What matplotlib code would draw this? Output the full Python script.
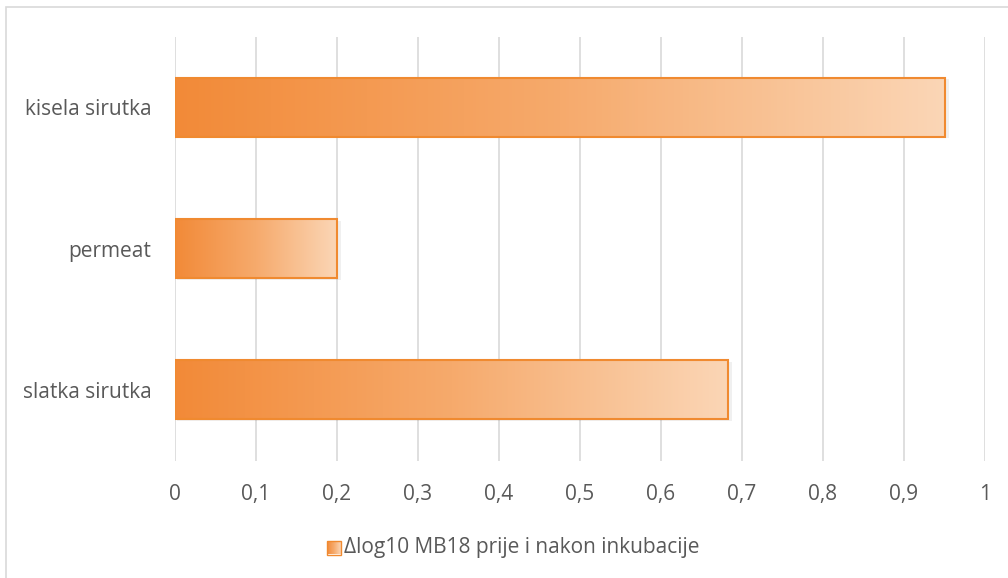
import numpy as np
import matplotlib.pyplot as plt
from matplotlib.patches import Rectangle
from matplotlib.colors import LinearSegmentedColormap

plt.rcParams['font.family'] = ['Open Sans', 'DejaVu Sans']

categories = ['slatka sirutka', 'permeat', 'kisela sirutka']
values = [0.683, 0.2, 0.95]
xticks = [0, 0.1, 0.2, 0.3, 0.4, 0.5, 0.6, 0.7, 0.8, 0.9, 1]
series_name = '\u0394log10 MB18 prije i nakon inkubacije'

grey = '#595959'
edge = '#F08A30'
cmap = LinearSegmentedColormap.from_list('og', ['#F28A38', '#F6AA6C', '#FBD6B6'])
grad = np.linspace(0, 1, 256).reshape(1, -1)

fig = plt.figure(figsize=(10.08, 5.78), dpi=100)
fig.patches.append(Rectangle((6 / 1008, -0.01), 1.1, 1 - 7 / 578 + 0.01,
                             transform=fig.transFigure, fill=False,
                             edgecolor='#D9D9D9', lw=1.2))

ax = fig.add_axes([175 / 1008, 1 - 460.5 / 578, 810 / 1008, 424 / 578])

h = 1 / 2.4
for i, v in enumerate(values):
    # soft shadow
    ax.add_patch(Rectangle((0.002, i - h / 2 - 0.012), v + 0.003, h,
                           facecolor='#000000', alpha=0.06, lw=0, zorder=2))
    bar = ax.barh(i, v, height=h, color='none', edgecolor=edge, lw=1.5, zorder=4)[0]
    im = ax.imshow(grad, cmap=cmap, aspect='auto', zorder=3,
                   extent=(0, v, i - h / 2, i + h / 2))
    im.set_clip_path(bar)

ax.set_xlim(0, 1)
ax.set_ylim(-0.5, 2.5)
ax.set_yticks(range(len(categories)))
ax.set_yticklabels(categories)
ax.set_xticks(xticks)
ax.set_xticklabels([('%g' % t).replace('.', ',') for t in xticks])
ax.tick_params(length=0, labelsize=15, labelcolor=grey)
ax.tick_params(axis='x', pad=17)
ax.tick_params(axis='y', pad=17)
ax.grid(axis='x', color='#D9D9D9', lw=1.2, zorder=0)
ax.set_axisbelow(True)
for s in ax.spines.values():
    s.set_visible(False)

# legend entry
lax = fig.add_axes([0, 0, 1, 1], facecolor='none')
lax.set_xlim(0, 1008)
lax.set_ylim(578, 0)
lax.axis('off')
sq = Rectangle((327, 540.5), 14, 14, facecolor='none', edgecolor=edge, lw=1)
lax.add_patch(sq)
li = lax.imshow(grad, cmap=cmap, aspect='auto', extent=(327, 341, 554.5, 540.5))
li.set_clip_path(sq)
lax.text(344, 548, series_name, fontsize=15, color=grey, va='center', ha='left')

fig.savefig('out.png', dpi=100)
